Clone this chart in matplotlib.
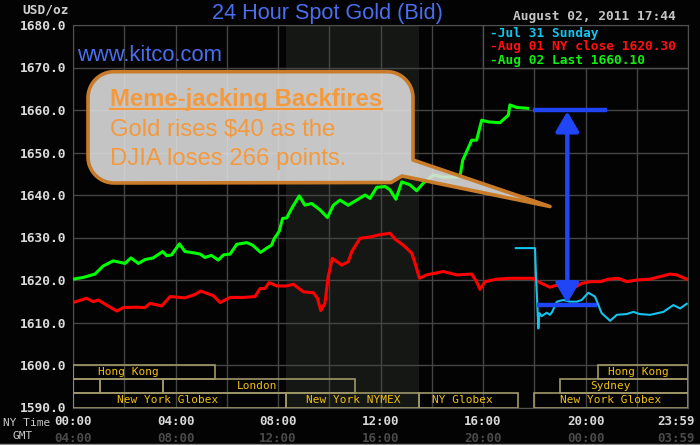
import numpy as np
import matplotlib
matplotlib.use('Agg')
import matplotlib.pyplot as plt
from matplotlib.patches import Rectangle, PathPatch
from matplotlib.path import Path
from matplotlib.lines import Line2D

# NY time in hours after midnight, bid price
aug02_hours = [0.0, 0.4, 0.86, 1.18, 1.57, 2.03, 2.26, 2.55, 2.81, 3.13, 3.5, 3.66, 3.85,
               4.15, 4.37, 4.7, 4.96, 5.15, 5.4, 5.67, 5.87, 6.13, 6.39, 6.78, 7.01, 7.32,
               7.56, 7.75, 7.84, 8.05, 8.18, 8.34, 8.53, 8.83, 9.05, 9.31, 9.64, 9.93,
               10.16, 10.42, 10.74, 11.07, 11.4, 11.59, 11.85, 12.18, 12.37, 12.6, 12.83,
               13.15, 13.41, 13.67, 14.06, 14.45, 14.84, 15.1, 15.21, 15.36, 15.56, 15.75,
               15.95, 16.21, 16.66, 16.99, 17.05, 17.31, 17.74]
aug02_price = [1620.2, 1620.6, 1621.4, 1623.3, 1624.5, 1623.9, 1625.2, 1623.9, 1624.8,
               1625.2, 1626.7, 1625.7, 1625.9, 1628.5, 1626.7, 1626.4, 1626.1, 1625.3,
               1625.8, 1624.7, 1625.9, 1626.1, 1628.4, 1628.8, 1628.2, 1626.5, 1627.5,
               1628.2, 1629.6, 1631.5, 1634.5, 1634.6, 1636.8, 1639.8, 1637.6, 1638.0,
               1636.5, 1634.7, 1637.6, 1638.8, 1637.6, 1638.8, 1640.0, 1639.2, 1641.8,
               1642.0, 1641.2, 1639.0, 1643.1, 1642.4, 1641.0, 1642.8, 1644.7, 1644.2,
               1644.2, 1644.3, 1648.2, 1650.2, 1652.9, 1652.9, 1657.6, 1657.2, 1657.0,
               1658.8, 1661.2, 1660.6, 1660.4]

aug01_hours = [0.0, 0.53, 0.79, 0.99, 1.31, 1.71, 1.96, 2.48, 2.81, 3.0, 3.46, 3.79, 4.37,
               4.76, 4.98, 5.48, 5.74, 6.13, 6.65, 7.1, 7.3, 7.49, 7.65, 7.95, 8.34, 8.6,
               8.86, 9.0, 9.38, 9.54, 9.67, 9.83, 9.96, 10.12, 10.49, 10.74, 10.88, 11.2,
               11.66, 11.92, 12.37, 12.57, 12.89, 13.22, 13.35, 13.52, 13.8, 14.45, 14.97,
               15.56, 15.75, 15.88, 16.08, 16.53, 17.05, 17.96, 18.22, 18.61, 18.88, 19.2,
               19.59, 19.85, 20.18, 20.57, 20.89, 21.28, 21.61, 22.0, 22.52, 22.91, 23.3,
               23.56, 23.95]
aug01_price = [1614.7, 1615.7, 1614.9, 1615.3, 1614.1, 1612.7, 1613.5, 1613.6, 1613.5,
               1614.5, 1613.9, 1616.1, 1615.8, 1616.6, 1617.4, 1616.3, 1614.7, 1615.9,
               1615.9, 1616.1, 1618.0, 1618.0, 1619.4, 1618.6, 1618.6, 1619.0, 1617.8,
               1617.2, 1617.0, 1615.7, 1612.8, 1614.5, 1620.8, 1625.1, 1623.5, 1624.3,
               1626.7, 1629.8, 1630.2, 1630.6, 1631.0, 1629.6, 1628.2, 1626.3, 1623.9,
               1620.4, 1621.2, 1622.0, 1621.2, 1621.4, 1619.6, 1617.8, 1619.6, 1620.2,
               1620.4, 1620.4, 1619.4, 1618.3, 1618.8, 1618.0, 1618.3, 1619.2, 1619.6,
               1619.6, 1620.2, 1620.4, 1619.6, 1620.0, 1620.2, 1620.8, 1621.4, 1621.2,
               1620.2]

jul31_hours = [17.28, 18.03, 18.07, 18.16, 18.2, 18.29, 18.49, 18.61, 18.7, 18.88, 19.13,
               19.4, 19.66, 19.85, 20.11, 20.37, 20.63, 20.96, 21.22, 21.61, 21.87, 22.1,
               22.52, 23.04, 23.43, 23.69, 23.95]
jul31_price = [1627.5, 1627.5, 1620.8, 1608.6, 1612.2, 1611.5, 1612.3, 1611.8, 1612.5,
               1614.9, 1615.3, 1614.9, 1614.9, 1615.3, 1617.0, 1616.1, 1612.2, 1610.4,
               1611.8, 1612.0, 1612.5, 1612.0, 1611.8, 1612.5, 1614.1, 1613.3, 1614.4]

y_ticks = [1590, 1600, 1610, 1620, 1630, 1640, 1650, 1660, 1670, 1680]
ny_hours = [0, 4, 8, 12, 16, 20]
ny_labels = ['00:00', '04:00', '08:00', '12:00', '16:00', '20:00']
gmt_labels = ['04:00', '08:00', '12:00', '16:00', '20:00', '00:00']

legend_labels = ['-Jul 31 Sunday', '-Aug 01 NY close 1620.30', '-Aug 02 Last 1660.10']

# trading sessions at the foot of the chart
session_row = [0, 0, 1, 1, 1, 1, 2, 2, 2, 2]
session_start = [0, 20.5, 0, 1.05, 3.5, 19.0, 0, 8.33, 13.5, 18.0]
session_end = [5.55, 24, 1.05, 3.5, 11.0, 24, 8.33, 13.5, 17.35, 24]
session_name = ['Hong Kong', 'Hong Kong', '', '', 'London', 'Sydney',
                'New York Globex', 'New York NYMEX', 'NY Globex', 'New York Globex']
label_at = [2.15, 22.06, 0, 0, 7.2, 20.97, 3.68, 10.93, 15.2, 20.98]

nymex_open, nymex_close = 8.33, 13.5
gain_top, gain_bottom = 1660.1, 1614.1

W, H = 700, 445
BG = '#030303'
MONO = 'DejaVu Sans Mono'
BLUE = '#1f45f5'


def fx(x):
    return x / W


def fy(y):
    return 1 - y / H


fig = plt.figure(figsize=(7, 4.45), dpi=100, facecolor=BG)
ax = fig.add_axes([73 / W, 1 - 407.5 / H, 615 / W, 382.5 / H])
ax.set_facecolor(BG)
ax.set_xlim(0, 24)
ax.set_ylim(1590, 1680)

ax.axvspan(nymex_open, nymex_close, color='#141714', zorder=0, lw=0)
ax.set_xticks(np.arange(0, 25, 2))
ax.set_yticks(y_ticks)
ax.set_yticklabels([f'{v:.1f}' for v in y_ticks], family=MONO, weight='bold')
ax.grid(color='#454545', lw=1.0)
ax.set_axisbelow(True)
ax.tick_params(axis='x', labelbottom=False, length=0)
ax.tick_params(axis='y', length=0, pad=5, labelcolor='#dcdcdc', labelsize=9.3)
for s in ax.spines.values():
    s.set_color('#505050')

# session boxes
row_h = 10 / 3
for r, s, e, name, lx in zip(session_row, session_start, session_end, session_name, label_at):
    y0 = 1600 - (r + 1) * row_h
    ax.add_patch(Rectangle((s, y0), e - s, row_h, fill=False, ec='#a09868', lw=1.2, zorder=3))
    if name:
        ax.text(lx, y0 + row_h / 2, name, ha='center', va='center', color='#f0c010',
                family=MONO, size=8, zorder=3)

# legend box
ax.add_patch(Rectangle((16, 1670), 8, 10, fc=BG, ec='#505050', lw=1.0, zorder=4))

ax.plot(aug01_hours, aug01_price, color='#ff0000', lw=2.2, zorder=5)
ax.plot(aug02_hours, aug02_price, color='#00ff00', lw=2.2, zorder=5)
ax.plot(jul31_hours, jul31_price, color='#14c4ee', lw=1.5, zorder=5)

# gain marker
ax.hlines(gain_top, 17.96, 20.85, color=BLUE, lw=3.2, zorder=6)
ax.hlines(gain_bottom, 18.12, 20.46, color=BLUE, lw=3.2, zorder=6)
ax.annotate('', xy=(19.29, gain_top - 0.4), xytext=(19.29, gain_bottom + 0.4),
            arrowprops=dict(arrowstyle='<|-|>,head_length=0.6,head_width=0.35',
                            mutation_scale=20, color=BLUE, lw=3.2,
                            shrinkA=0, shrinkB=0), zorder=6)

# header texts
fig.text(fx(327), fy(18.5), '24 Hour Spot Gold (Bid)', ha='center', va='baseline',
         color='#4a6ef0', size=15.6, family='Liberation Sans')
fig.text(fx(76.7), fy(61), 'www.kitco.com', ha='left', va='baseline',
         color='#4a6ef0', size=15.8, family='Liberation Sans')
fig.text(fx(22.7), fy(13.3), 'USD/oz', ha='left', va='baseline', color='#d0d0d0',
         family=MONO, weight='bold', size=9.3)
fig.text(fx(512.7), fy(20), 'August 02, 2011 17:44', ha='left', va='baseline',
         color='#c4c4c4', family=MONO, weight='bold', size=9.3)
for lbl, col, yb in zip(legend_labels, ['#14c4ee', '#ff1010', '#10f010'], [36.5, 50, 64]):
    fig.text(fx(490), fy(yb), lbl, ha='left', va='baseline', color=col,
             family=MONO, weight='bold', size=9.3)

# time axis labels
for h, ny, gmt in zip(ny_hours, ny_labels, gmt_labels):
    xp = 73 + h * 615 / 24
    fig.text(fx(xp), fy(425), ny, ha='center', va='baseline', color='#d8d8d8',
             family=MONO, weight='bold', size=9)
    fig.text(fx(xp), fy(442), gmt, ha='center', va='baseline', color='#4a4a4a',
             family=MONO, weight='bold', size=9)
fig.text(fx(695), fy(425), '23:59', ha='right', va='baseline', color='#d8d8d8',
         family=MONO, weight='bold', size=9)
fig.text(fx(695), fy(442), '03:59', ha='right', va='baseline', color='#4a4a4a',
         family=MONO, weight='bold', size=9)
fig.text(fx(3), fy(426), 'NY Time', ha='left', va='baseline', color='#c8c8c8',
         family=MONO, size=8)
fig.text(fx(12.7), fy(439), 'GMT', ha='left', va='baseline', color='#c8c8c8',
         family=MONO, size=8)
fig.add_artist(Line2D([0, 1], [fy(444), fy(444)], color='#8a8a8a', lw=1,
                      transform=fig.transFigure))

# speech bubble
x0, x1, y0, y1, r = 88, 413, 71.7, 183, 26


def arc(cx, cy, a0, a1, n=14):
    t = np.radians(np.linspace(a0, a1, n))
    return list(zip(cx + r * np.cos(t), cy + r * np.sin(t)))


pts = arc(x0 + r, y0 + r, 180, 270) + arc(x1 - r, y0 + r, 270, 360)
pts += [(x1, 160), (550, 206.5), (402, 176), (391, 182.5)]
pts += arc(x0 + r, y1 - r, 90, 180)
pts.append(pts[0])
verts = [(fx(px), fy(py)) for px, py in pts]
codes = [Path.MOVETO] + [Path.LINETO] * (len(verts) - 2) + [Path.CLOSEPOLY]
bubble = PathPatch(Path(verts, codes), fc=(0.88, 0.88, 0.88, 0.88), ec='#c97b2a', lw=2.6,
                   joinstyle='round', transform=fig.transFigure, zorder=10)
fig.add_artist(bubble)

ORANGE = '#f39a3e'
head = fig.text(fx(110), fy(106), 'Meme-jacking Backfires', ha='left', va='baseline',
                color=ORANGE, size=17.2, weight='bold', family='Liberation Sans', zorder=30)
fig.text(fx(110), fy(135.7), 'Gold rises $40 as the', ha='left', va='baseline',
         color=ORANGE, size=17.2, family='Liberation Sans', zorder=30)
fig.text(fx(110), fy(165), 'DJIA loses 266 points.', ha='left', va='baseline',
         color=ORANGE, size=17.2, family='Liberation Sans', zorder=30)
bb = head.get_window_extent(fig.canvas.get_renderer())
fig.add_artist(Line2D([bb.x0 / W, bb.x1 / W], [fy(108.5), fy(108.5)], color=ORANGE,
                      lw=1.6, transform=fig.transFigure, zorder=30))

fig.savefig('out.png', dpi=100, facecolor=BG)
